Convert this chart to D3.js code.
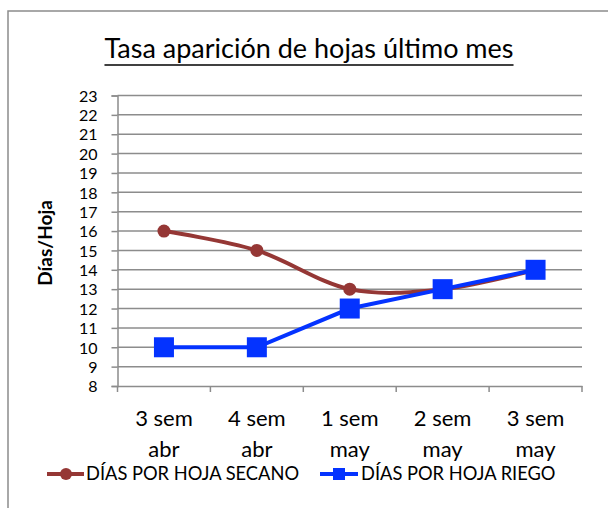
<!DOCTYPE html>
<html>
<head>
<meta charset="utf-8">
<script src="https://cdn.jsdelivr.net/npm/d3@7"></script>
<style>
  body { margin: 0; background: #fff; }
  text { font-family: Lato, "Open Sans", sans-serif; fill: #000; }
</style>
</head>
<body>
<svg width="608" height="508"></svg>
<script>
var categories = [["3 sem", "abr"], ["4 sem", "abr"], ["1 sem", "may"], ["2 sem", "may"], ["3 sem", "may"]];
var secano = [16, 15, 13, 13, 14];
var riego = [10, 10, 12, 13, 14];
var yTicks = d3.range(8, 24);

var svg = d3.select("svg"),
    margin = {top: 95.5, right: 26, bottom: 122, left: 117.5},
    width = 608 - margin.left - margin.right,
    height = 508 - margin.top - margin.bottom;

// frame
svg.append("rect")
    .attr("x", 8).attr("y", 11)
    .attr("width", 620).attr("height", 520)
    .attr("fill", "none").attr("stroke", "#8c8c8c").attr("stroke-width", 1.5);

var title = svg.append("text")
    .attr("x", 309).attr("y", 58)
    .attr("text-anchor", "middle")
    .style("font-size", "27px")
    .text("Tasa aparición de hojas último mes");
var tb = title.node().getBBox();
svg.append("line")
    .attr("x1", tb.x).attr("x2", tb.x + tb.width)
    .attr("y1", 65).attr("y2", 65)
    .attr("stroke", "#000").attr("stroke-width", 1.5);

var g = svg.append("g").attr("transform", "translate(" + margin.left + "," + margin.top + ")");

var x = d3.scaleBand().domain(d3.range(categories.length)).range([0, width]);
var y = d3.scaleLinear().domain([8, 23]).range([height, 0]);

// gridlines
g.selectAll(".grid").data(yTicks.slice(1)).enter().append("line")
    .attr("class", "grid")
    .attr("x1", 0).attr("x2", width)
    .attr("y1", function(d) { return y(d); }).attr("y2", function(d) { return y(d); })
    .attr("stroke", "#8c8c8c").attr("stroke-width", 1.5);

var yAxis = g.append("g")
    .call(d3.axisLeft(y).tickValues(yTicks).tickSize(6).tickPadding(14).tickFormat(d3.format("d")));
var xAxis = g.append("g")
    .attr("transform", "translate(0," + height + ")")
    .call(d3.axisBottom(x).tickSize(0).tickFormat(""));
[yAxis, xAxis].forEach(function(a) {
  a.select(".domain").attr("stroke", "#8c8c8c").attr("stroke-width", 1.5);
  a.selectAll(".tick line").attr("stroke", "#8c8c8c").attr("stroke-width", 1.5);
});
yAxis.selectAll(".tick text").style("font-size", "16px").attr("dy", "0.36em");

// x tick marks on band edges
g.selectAll(".xtick").data(d3.range(categories.length + 1)).enter().append("line")
    .attr("x1", function(i) { return i * x.step(); }).attr("x2", function(i) { return i * x.step(); })
    .attr("y1", height).attr("y2", height + 6)
    .attr("stroke", "#8c8c8c").attr("stroke-width", 1.5);

// x labels, two lines
var xl = g.selectAll(".xl").data(categories).enter().append("text")
    .attr("text-anchor", "middle")
    .attr("transform", function(d, i) { return "translate(" + (x(i) + x.bandwidth() / 2) + "," + (height + 39.5) + ")"; })
    .style("font-size", "22px");
xl.append("tspan").attr("x", 0).attr("y", 0).text(function(d) { return d[0]; });
xl.append("tspan").attr("x", 0).attr("y", 31).text(function(d) { return d[1]; });

svg.append("text")
    .attr("transform", "translate(52,243) rotate(-90)")
    .attr("text-anchor", "middle")
    .style("font-size", "19px").style("font-weight", "bold")
    .text("Días/Hoja");

var cx = function(d, i) { return x(i) + x.bandwidth() / 2; };
var red = "#953735", blue = "#0433ff";

g.append("path").datum(secano)
    .attr("fill", "none").attr("stroke", red).attr("stroke-width", 4)
    .attr("d", d3.line().x(cx).y(function(d) { return y(d); }).curve(d3.curveCatmullRom.alpha(0)));
g.selectAll(".dot").data(secano).enter().append("circle")
    .attr("cx", cx).attr("cy", function(d) { return y(d); })
    .attr("r", 6.5).attr("fill", red);

g.append("path").datum(riego)
    .attr("fill", "none").attr("stroke", blue).attr("stroke-width", 4)
    .attr("d", d3.line().x(cx).y(function(d) { return y(d); }));
g.selectAll(".sq").data(riego).enter().append("rect")
    .attr("x", function(d, i) { return cx(d, i) - 10; })
    .attr("y", function(d) { return y(d) - 10; })
    .attr("width", 20).attr("height", 20).attr("fill", blue);

// legend
var leg = svg.append("g").attr("transform", "translate(0,474)");
leg.append("line").attr("x1", 47).attr("x2", 84).attr("stroke", red).attr("stroke-width", 4);
leg.append("circle").attr("cx", 66).attr("r", 6).attr("fill", red);
leg.append("text").attr("x", 86).attr("dy", "0.35em").style("font-size", "18.3px").text("DÍAS POR HOJA SECANO");
leg.append("line").attr("x1", 320).attr("x2", 358).attr("stroke", blue).attr("stroke-width", 4);
leg.append("rect").attr("x", 333).attr("y", -6).attr("width", 12).attr("height", 12).attr("fill", blue);
leg.append("text").attr("x", 361).attr("dy", "0.35em").style("font-size", "18.3px").text("DÍAS POR HOJA RIEGO");
</script>
</body>
</html>
